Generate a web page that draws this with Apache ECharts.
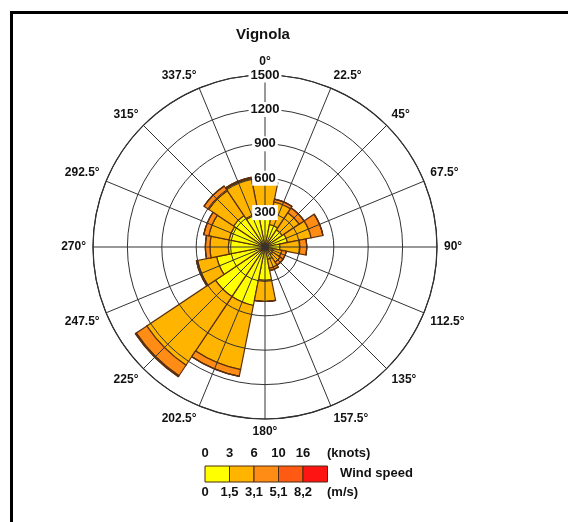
<!DOCTYPE html>
<html>
<head>
<meta charset="utf-8">
<script src="https://cdn.jsdelivr.net/npm/echarts@6/dist/echarts.min.js"></script>
<style>
  html, body { margin: 0; padding: 0; background: #fff; }
  #wrap { position: relative; width: 568px; height: 522px; overflow: hidden; }
  #chart { position: absolute; left: 0; top: 0; width: 568px; height: 522px; }
  #frame { position: absolute; left: 10px; top: 11px; width: 600px; height: 600px;
           border-left: 3px solid #000; border-top: 3px solid #000; pointer-events: none; }
</style>
</head>
<body>
<div id="wrap"><div id="chart"></div><div id="frame"></div></div>
<script>
// ---- data ----
const directions = ['N','NNE','NE','ENE','E','ESE','SE','SSE','S','SSW','SW','WSW','W','WNW','NW','NNW'];
const speed0_3   = [270, 200, 180, 200, 130, 70, 80, 110, 290, 520, 520, 430, 320, 320, 330, 290];
const speed3_6   = [290, 200, 180, 210, 175, 80, 80,  80, 185, 570, 720, 170, 160, 180, 260, 320];
const speed6_10  = [ 10,  25,  50, 105,  60, 40, 30,  20,   0,  60, 110,  10,  40,  45,  50,  10];
const speed10_16 = [  0,   0,   0,   0,   0,  0,  0,   0,   0,   0,  10,   0,   0,   0,   0,   0];
const speed16p   = [  0,   0,   0,   0,   0,  0,  0,   0,   0,   0,   0,   0,   0,   0,   0,   0];
const classNames = ['0-3 kn', '3-6 kn', '6-10 kn', '10-16 kn', '>16 kn'];
const classColors = ['#FFFF00', '#FFB400', '#FF8C14', '#FF5A14', '#FF1414'];
const knotsLabels = ['0', '3', '6', '10', '16'];
const msLabels = ['0', '1,5', '3,1', '5,1', '8,2'];
const radiusTicks = [0, 300, 600, 900, 1200, 1500];
const title = 'Vignola';

const seriesData = [speed0_3, speed3_6, speed6_10, speed10_16, speed16p];
const FONT = 'Liberation Sans, Arial, sans-serif';
const chart = echarts.init(document.getElementById('chart'), null, { renderer: 'canvas' });

const center = [265, 247];
const R = 172;

// legend graphics
const lgX = 205, lgY = 466, lgW = 24.5, lgH = 16;
const LFONT = 'bold 13px ' + FONT;
const graphics = [];
classColors.forEach((c, i) => {
  graphics.push({ type: 'rect', shape: { x: lgX + i * lgW, y: lgY, width: lgW, height: lgH },
    style: { fill: c, stroke: '#4a2a10', lineWidth: 1 } });
});
knotsLabels.forEach((t, i) => {
  graphics.push({ type: 'text', x: lgX + i * lgW, y: lgY - 13,
    style: { text: t, font: LFONT, fill: '#111', textAlign: 'center', textVerticalAlign: 'middle' } });
});
msLabels.forEach((t, i) => {
  graphics.push({ type: 'text', x: lgX + i * lgW, y: lgY + lgH + 10,
    style: { text: t, font: LFONT, fill: '#111', textAlign: 'center', textVerticalAlign: 'middle' } });
});
graphics.push({ type: 'text', x: 327, y: lgY - 13,
  style: { text: '(knots)', font: LFONT, fill: '#111', textAlign: 'left', textVerticalAlign: 'middle' } });
graphics.push({ type: 'text', x: 327, y: lgY + lgH + 10,
  style: { text: '(m/s)', font: LFONT, fill: '#111', textAlign: 'left', textVerticalAlign: 'middle' } });
graphics.push({ type: 'text', x: 340, y: lgY + 7,
  style: { text: 'Wind speed', font: LFONT, fill: '#111', textAlign: 'left', textVerticalAlign: 'middle' } });

const option = {
  backgroundColor: '#fff',
  animation: false,
  title: { text: title, left: 231, top: 22,
    textStyle: { fontFamily: FONT, fontWeight: 'bold', fontSize: 15, color: '#111' } },
  polar: [
    { center: center, radius: R },
    { center: center, radius: R }
  ],
  angleAxis: [
    { polarIndex: 0, type: 'category', data: directions, startAngle: 90 + 11.25, clockwise: true,
      show: false, boundaryGap: true },
    { polarIndex: 1, type: 'value', min: 0, max: 360, interval: 22.5, startAngle: 90, clockwise: true,
      z: 5,
      axisLine: { show: true, lineStyle: { color: '#222', width: 1.2 } },
      axisTick: { show: false },
      splitLine: { show: true, lineStyle: { color: '#333', width: 1 } },
      axisLabel: { margin: 7, color: '#111', fontFamily: FONT, fontWeight: 'bold', fontSize: 12,
        formatter: v => (v >= 360 ? '' : v + '°') } }
  ],
  radiusAxis: [
    { polarIndex: 0, type: 'value', min: 0, max: 1500, show: false },
    { polarIndex: 1, type: 'value', min: 0, max: 1500, interval: 300, z: 6,
      axisLine: { show: false },
      axisTick: { show: false },
      splitLine: { show: true, lineStyle: { color: '#333', width: 1 } },
      axisLabel: { margin: 0, color: '#111', fontFamily: FONT, fontWeight: 'bold', fontSize: 13,
        showMinLabel: false,
        align: 'center', verticalAlign: 'middle', backgroundColor: '#fff', padding: [1, 2],
        formatter: v => String(v) } }
  ],
  series: seriesData.map((d, i) => ({
    type: 'bar', name: classNames[i], coordinateSystem: 'polar', polarIndex: 0,
    stack: 'rose', data: d, barCategoryGap: '0%', z: 2,
    itemStyle: { color: classColors[i], borderColor: '#5a3010', borderWidth: 1.2 }
  })),
  graphic: graphics
};
chart.setOption(option);
</script>
</body>
</html>
